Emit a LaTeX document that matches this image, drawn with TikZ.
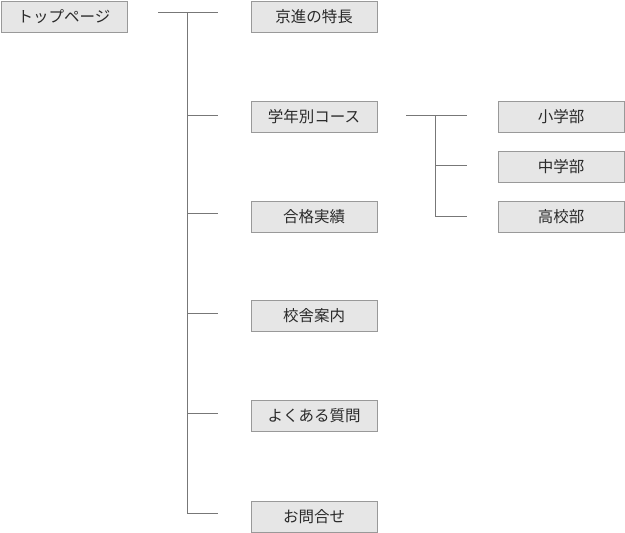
\documentclass[tikz,border=0pt]{standalone}
\usepackage{fontspec}
\newfontfamily\jp{Noto Sans CJK JP}
\begin{document}
\begin{tikzpicture}[x=1pt,y=-1pt,
  box/.style={draw=boxline,fill=boxfill,line width=1pt,minimum width=126pt,minimum height=31pt,inner sep=0pt,font=\jp\fontsize{15.5}{17}\selectfont,text=textcol,anchor=north west},
  conn/.style={draw=connline,line width=1pt}]
\definecolor{boxline}{HTML}{999999}
\definecolor{boxfill}{HTML}{E6E6E6}
\definecolor{connline}{HTML}{777777}
\definecolor{textcol}{HTML}{2A2A2A}
\useasboundingbox (0,0) rectangle (625,533);
\node[box] (top) at (0.5,0.5) {トップページ};
\node[box] (n1) at (250.5,0.5) {京進の特長};
\node[box] (n2) at (250.5,100.5) {学年別コース};
\node[box] (n3) at (250.5,200.5) {合格実績};
\node[box] (n4) at (250.5,299.5) {校舎案内};
\node[box] (n5) at (250.5,399.5) {よくある質問};
\node[box] (n6) at (250.5,500.5) {お問合せ};
\node[box] (s1) at (497.5,100.5) {小学部};
\node[box] (s2) at (497.5,150.5) {中学部};
\node[box] (s3) at (497.5,200.5) {高校部};
% main tree
\coordinate (ts) at (158,12);
\coordinate (tv) at (187.5,12);
\coordinate (te) at (217.5,12);
\coordinate (v2) at (187.5,115.5);
\coordinate (e2) at (217.5,115.5);
\coordinate (v3) at (187.5,213.5);
\coordinate (e3) at (217.5,213.5);
\coordinate (v4) at (187.5,313.5);
\coordinate (e4) at (217.5,313.5);
\coordinate (v5) at (187.5,413.5);
\coordinate (e5) at (217.5,413.5);
\coordinate (v6) at (187.5,513.5);
\coordinate (e6) at (217.5,513.5);
\draw[conn] (ts) -- (te);
\draw[conn] (tv) -- (v6) -- (e6);
\draw[conn] (v2) -- (e2);
\draw[conn] (v3) -- (e3);
\draw[conn] (v4) -- (e4);
\draw[conn] (v5) -- (e5);
% sub tree
\coordinate (ss) at (406,115.5);
\coordinate (sv) at (435.5,115.5);
\coordinate (se) at (466.5,115.5);
\coordinate (sv2) at (435.5,165.5);
\coordinate (se2) at (466.5,165.5);
\coordinate (sv3) at (435.5,216.5);
\coordinate (se3) at (466.5,216.5);
\draw[conn] (ss) -- (se);
\draw[conn] (sv) -- (sv3) -- (se3);
\draw[conn] (sv2) -- (se2);
\end{tikzpicture}
\end{document}
